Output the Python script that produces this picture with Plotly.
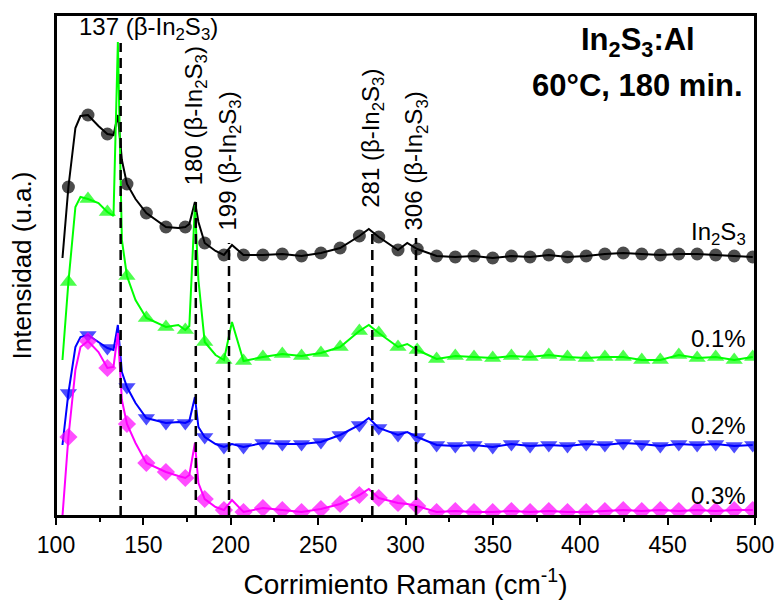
import numpy as np
import plotly.graph_objects as go

# Raman shift grid (cm^-1) shared by all four spectra
raman_shift = [103.7, 107.1, 111.1, 114.0, 118.3, 124.3, 129.4, 132.9, 135.4, 137.7,
               140.6, 145.5, 151.7, 162.9, 170.0, 174.0, 176.3, 179.5, 181.5, 185.1,
               191.3, 196.1, 200.7, 207.3, 218.4, 229.5, 240.5, 251.6, 262.6, 273.6,
               279.0, 284.7, 295.7, 301.0, 306.7, 317.8, 328.5, 339.2, 349.9, 360.6,
               371.3, 382.0, 392.7, 403.4, 414.1, 424.6, 435.2, 445.8, 456.4, 466.9,
               477.5, 488.1, 498.7]

# points of the grid that carry a symbol
marker_shift = [107.1, 118.3, 129.4, 140.6, 151.7, 162.9, 174.0, 185.1, 196.1, 207.3,
                218.4, 229.5, 240.5, 251.6, 262.6, 273.6, 284.7, 295.7, 306.7, 317.8,
                328.5, 339.2, 349.9, 360.6, 371.3, 382.0, 392.7, 403.4, 414.1, 424.6,
                435.2, 445.8, 456.4, 466.9, 477.5, 488.1, 498.7]

# stacked intensities (a.u.)
int_in2s3 = [51.6, 65.8, 77.6, 80.0, 80.2, 78.0, 76.4, 76.2, 80.2, 71.2,
             66.4, 63.4, 60.6, 57.8, 57.6, 57.8, 58.4, 62.8, 58.8, 54.6,
             53.0, 52.2, 54.2, 52.2, 52.2, 52.4, 52.0, 52.6, 53.6, 56.0,
             57.4, 55.8, 53.2, 54.6, 53.4, 52.0, 51.8, 52.0, 51.6, 52.0,
             51.8, 52.2, 51.8, 52.0, 52.4, 52.6, 52.4, 52.2, 52.4, 52.4,
             52.2, 52.0, 51.8]
int_al01 = [31.2, 46.8, 61.8, 63.8, 63.4, 62.6, 60.8, 60.0, 94.8, 55.2,
            48.0, 43.2, 39.6, 37.8, 38.2, 37.2, 38.0, 62.2, 47.2, 34.8,
            32.2, 31.2, 38.8, 31.0, 31.8, 32.4, 32.0, 32.6, 33.8, 37.0,
            38.2, 36.6, 33.8, 34.4, 33.2, 31.4, 32.0, 31.8, 31.6, 32.0,
            31.8, 32.2, 31.8, 31.6, 31.8, 31.8, 31.2, 31.2, 32.2, 31.6,
            31.8, 31.2, 31.8]
int_al02 = [14.2, 24.6, 33.8, 35.8, 36.2, 34.8, 33.6, 33.2, 38.2, 28.8,
            25.8, 22.6, 19.6, 18.6, 18.8, 18.6, 19.0, 23.8, 17.8, 15.8,
            14.4, 13.8, 14.4, 13.8, 14.6, 14.4, 14.4, 14.8, 16.2, 18.2,
            19.6, 17.6, 16.2, 16.8, 15.8, 14.2, 14.0, 14.2, 13.8, 14.4,
            14.0, 14.2, 14.0, 14.4, 14.2, 14.6, 14.4, 14.0, 14.4, 14.2,
            14.4, 14.0, 14.2]
int_al03 = [0.0, 15.8, 29.2, 33.8, 35.0, 32.8, 29.6, 29.8, 36.6, 23.2,
            18.4, 14.6, 10.6, 8.8, 8.0, 7.6, 8.2, 14.6, 6.6, 3.4,
            1.8, 1.2, 3.2, 0.8, 1.6, 1.2, 0.8, 1.4, 2.4, 4.2,
            5.4, 3.6, 2.6, 2.4, 2.0, 0.8, 1.0, 0.8, 0.8, 1.0,
            0.8, 1.0, 0.8, 0.8, 1.0, 1.2, 1.0, 1.2, 1.0, 1.2,
            1.0, 1.2, 1.2]

series_names = ["In<sub>2</sub>S<sub>3</sub>", "0.1%", "0.2%", "0.3%"]

# beta-In2S3 reference modes (cm^-1) and the height each guide line reaches
mode_positions = [137, 180, 199, 281, 306]
mode_line_tops = [94.6, 63.0, 54.6, 57.0, 55.6]

FONT = "Liberation Sans, Arial, sans-serif"
PHASE = " (\u03b2-In<sub>2</sub>S<sub>3</sub>)"

styles = [
    dict(color="#000000", symbol="circle", size=13),
    dict(color="#00ff00", symbol="triangle-up", size=15),
    dict(color="#0000ff", symbol="triangle-down", size=15),
    dict(color="#ff00ff", symbol="diamond", size=14),
]
spectra = [int_in2s3, int_al01, int_al02, int_al03]

x = np.array(raman_shift)
has_marker = np.isin(x, marker_shift)

fig = go.Figure()
for name, y, st in zip(series_names, spectra, styles):
    sizes = np.where(has_marker, st["size"], 0)
    fig.add_trace(go.Scatter(
        x=x, y=y, mode="lines+markers", name=name,
        line=dict(color=st["color"], width=2),
        marker=dict(color=st["color"], symbol=st["symbol"], size=sizes,
                    line=dict(width=0)),
        showlegend=False,
    ))

# dashed guide lines for the phase modes
for pos, top in zip(mode_positions, mode_line_tops):
    fig.add_shape(type="line", xref="x", yref="y", x0=pos, x1=pos, y0=0, y1=top,
                  line=dict(color="black", width=2.5, dash="10px,6px"), layer="above")

# frame around the plotting area
fig.add_shape(type="rect", xref="paper", yref="paper", x0=0, x1=1, y0=0, y1=1,
              line=dict(color="black", width=2), fillcolor="rgba(0,0,0,0)", layer="above")

# mode labels
fig.add_annotation(x=153, y=97.6, xref="x", yref="y", text=str(mode_positions[0]) + PHASE,
                   showarrow=False, font=dict(family=FONT, size=24, color="black"),
                   xanchor="center", yanchor="middle")
label_bottoms = [65.8, 56.6, 61.2, 56.8]
for pos, bottom in zip(mode_positions[1:], label_bottoms):
    fig.add_annotation(x=pos, y=bottom, xref="x", yref="y", text=str(pos) + PHASE,
                       textangle=-90, showarrow=False,
                       font=dict(family=FONT, size=24, color="black"),
                       xanchor="center", yanchor="bottom")

# series labels at the right end
label_heights = [56.6, 35.6, 18.2, 4.2]
for name, yl in zip(series_names, label_heights):
    fig.add_annotation(x=496, y=yl, xref="x", yref="y", text=name, showarrow=False,
                       font=dict(family=FONT, size=24, color="black"),
                       xanchor="right", yanchor="middle")

# sample description
fig.add_annotation(x=0.832, y=0.946, xref="paper", yref="paper",
                   text="<b>In<sub>2</sub>S<sub>3</sub>:Al</b>", showarrow=False,
                   font=dict(family=FONT, size=31, color="black"),
                   xanchor="center", yanchor="middle")
fig.add_annotation(x=0.832, y=0.860, xref="paper", yref="paper",
                   text="<b>60\u00b0C, 180 min.</b>", showarrow=False,
                   font=dict(family=FONT, size=31, color="black"),
                   xanchor="center", yanchor="middle")

fig.update_layout(
    width=776, height=600,
    margin=dict(l=56, r=21, t=15, b=84, autoexpand=False),
    paper_bgcolor="white", plot_bgcolor="white",
    font=dict(family=FONT, color="black"),
    xaxis=dict(
        range=[100, 500], tick0=100, dtick=50, automargin=False,
        ticks="outside", ticklen=7, tickwidth=1.5, tickcolor="black",
        minor=dict(dtick=25, ticks="outside", ticklen=4, tickwidth=1.5, tickcolor="black"),
        showline=True, linecolor="black", linewidth=2, mirror=True,
        showgrid=False, zeroline=False,
        tickfont=dict(family=FONT, size=23, color="black"),
        title=dict(text="Corrimiento Raman (cm<sup>-1</sup>)",
                   font=dict(family=FONT, size=28, color="black"), standoff=18),
    ),
    yaxis=dict(
        range=[0, 100.2], showticklabels=False, ticks="", automargin=False,
        showline=True, linecolor="black", linewidth=2, mirror=True,
        showgrid=False, zeroline=False,
        title=dict(text="Intensidad (u.a.)",
                   font=dict(family=FONT, size=26, color="black"), standoff=15),
    ),
)

fig.write_html("out.html")
